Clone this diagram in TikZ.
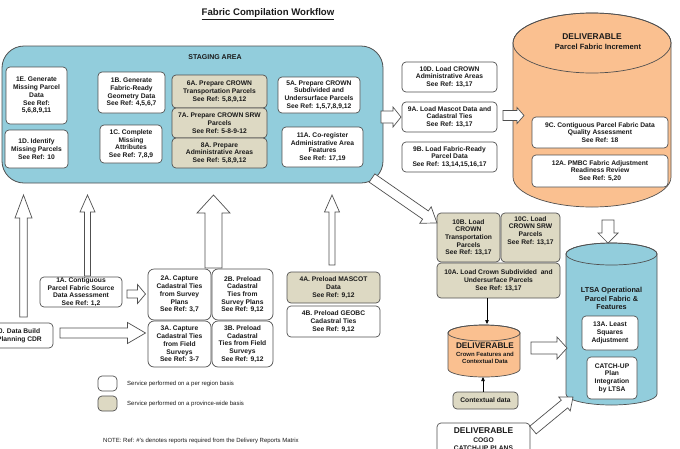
\documentclass[tikz,border=0pt]{standalone}
\usepackage{fontspec}
\setmainfont{Liberation Sans}
\usetikzlibrary{arrows.meta}
\definecolor{stagefill}{HTML}{92CDDC}
\definecolor{tanfill}{HTML}{DDD9C3}
\definecolor{orangefill}{HTML}{FAC090}
\definecolor{lineclr}{HTML}{505050}
\definecolor{txt}{HTML}{1A1A1A}
\newcommand\bxfont{\bfseries\fontsize{6.7}{7.7}\selectfont}
\newcommand\bx[7][]{\node[box,#1,minimum width={(#5-#3)*1pt},minimum height={(#6-#4)*1pt}] (#2) at ({(#3+#5)/2},{(#4+#6)/2}) {#7};}
\newcommand\barrow[7]{%
 \pgfmathsetmacro\bang{atan2((#2)-(#4),(#3)-(#1))}%
 \pgfmathsetmacro\blen{veclen((#3)-(#1),(#4)-(#2))}%
 \begin{scope}[shift={(#1,#2)},rotate=\bang]
  \draw[blockarrow] (0,#5) -- ({\blen-#7},#5) -- ({\blen-#7},#6) -- (\blen,0) -- ({\blen-#7},-#6) -- ({\blen-#7},-#5) -- (0,-#5) -- cycle;
 \end{scope}}
\tikzset{
 box/.style={draw=lineclr, line width=0.7pt, rounded corners=4pt, fill=white, align=center, font=\bxfont, text=txt, inner sep=0.5pt},
 tanbox/.style={box, fill=tanfill},
 bigbox/.style={box, rounded corners=6pt},
 blockarrow/.style={draw=lineclr, line width=0.7pt, fill=white, line join=miter},
 thinarrow/.style={draw=black, line width=0.6pt, -{Triangle[length=4pt,width=3.5pt]}},
 cylline/.style={draw=lineclr, line width=0.7pt},
 lbl/.style={font=\bxfont, text=txt, align=center, inner sep=0pt},
 big/.style={font=\bfseries\fontsize{8.4}{9}\selectfont, text=txt, inner sep=0pt},
 legendtxt/.style={font=\fontsize{6}{7}\selectfont, text=txt, inner sep=0pt, anchor=west},
}
\begin{document}
\begin{tikzpicture}[x=1pt,y=-1pt]
\useasboundingbox (0,0) rectangle (680,448);
\fill[white] (0,0) rectangle (680,448);

% title
\node[font=\bfseries\fontsize{9.6}{11}\selectfont, text=txt, inner sep=0pt] (title) at (268,14) {\underline{Fabric Compilation Workflow}};

% staging area
\node[draw=lineclr, line width=0.8pt, rounded corners=22pt, fill=stagefill, minimum width=381pt, minimum height=137pt, inner sep=0pt] (stage) at (192.5,114.5) {};
\node[font=\bfseries\fontsize{7}{8}\selectfont, text=txt, inner sep=0pt] (stagelbl) at (215,57) {STAGING AREA};

\bx{n1E}{6}{67}{67}{124}{1E. Generate\\Missing Parcel\\Data\\See Ref:\\5,6,8,9,11}
\bx{n1D}{5}{130}{68}{168}{1D. Identify\\Missing Parcels\\See Ref: 10}
\bx{n1B}{98}{72}{165}{113}{1B. Generate\\Fabric-Ready\\Geometry Data\\See Ref: 4,5,6,7}
\bx{n1C}{100}{125}{162}{163}{1C. Complete\\Missing\\Attributes\\See Ref: 7,8,9}
\bx[tanbox]{n6A}{172}{75}{267}{108}{6A. Prepare CROWN\\Transportation Parcels\\See Ref: 5,8,9,12}
\bx[tanbox]{n7A}{172}{108}{267}{138}{7A. Prepare CROWN SRW\\Parcels\\See Ref: 5-8-9-12}
\bx[tanbox]{n8A}{172}{138}{267}{168}{8A. Prepare\\Administrative Areas\\See Ref: 5,8,9,12}
\bx{n5A}{278}{77}{360}{113}{5A. Prepare CROWN\\Subdivided and\\Undersurface Parcels\\See Ref: 1,5,7,8,9,12}
\bx{n11A}{282}{127}{363}{167}{11A. Co-register\\Administrative Area\\Features\\See Ref: 17,19}

% load boxes
\bx{n10D}{402}{62}{497}{92}{10D. Load CROWN\\Administrative Areas\\See Ref: 13,17}
\bx{n9A}{402}{102}{497}{132}{9A. Load Mascot Data and\\Cadastral Ties\\See Ref: 13,17}
\bx{n9B}{402}{142}{497}{172}{9B. Load Fabric-Ready\\Parcel Data\\See Ref: 13,14,15,16,17}

% top-right cylinder
\filldraw[cylline, fill=orangefill] (513,43) -- (513,177) arc[start angle=180,end angle=360,x radius=79pt,y radius=30pt] -- (671,43) arc[start angle=0,end angle=180,x radius=79pt,y radius=30pt] -- cycle;
\draw[cylline] (592,43) ellipse[x radius=79pt,y radius=30pt];
\node[big] (pfiA) at (592,37) {DELIVERABLE};
\node[font=\bfseries\fontsize{7.6}{9}\selectfont, text=txt, inner sep=0pt] (pfiB) at (598,47) {Parcel Fabric Increment};
\bx{n9C}{532}{117}{668}{148}{9C. Contiguous Parcel Fabric Data\\Quality Assessment\\See Ref: 18}
\bx{n12A}{532}{155}{668}{187}{12A. PMBC Fabric Adjustment\\Readiness Review\\See Ref: 5,20}

% crown load boxes
\bx[tanbox]{n10B}{437}{213}{500}{262}{10B. Load\\CROWN\\Transportation\\Parcels\\See Ref: 13,17}
\bx[tanbox]{n10C}{501}{213}{560}{262}{10C. Load\\CROWN SRW\\Parcels\\See Ref: 13,17\\[7pt]}
\bx[tanbox]{n10A}{437}{263}{560}{298}{10A. Load Crown Subdivided\ \ and\\Undersurface Parcels\\See Ref: 13,17}

% small cylinder
\filldraw[cylline, fill=orangefill] (448,333) -- (448,369) arc[start angle=180,end angle=360,x radius=36pt,y radius=8pt] -- (520,333) arc[start angle=0,end angle=180,x radius=36pt,y radius=8pt] -- cycle;
\draw[cylline] (484,333) ellipse[x radius=36pt,y radius=8pt];
\node[font=\bfseries\fontsize{8.2}{9}\selectfont, text=txt, inner sep=0pt] (cfA) at (485,346) {DELIVERABLE};
\node[font=\bfseries\fontsize{6}{7.4}\selectfont, text=txt, align=center, inner sep=0pt] (cfB) at (485,358) {Crown Features and\\Contextual Data};
\bx[tanbox]{nctx}{453}{392}{518}{409}{Contextual data}
\coordinate (cyltop) at (487,324);
\coordinate (cylbot) at (483,377);
\draw[thinarrow] (n10A.south -| cyltop) -- (cyltop);
\draw[thinarrow] (nctx.north -| cylbot) -- (cylbot);

% LTSA cylinder
\filldraw[cylline, fill=stagefill] (566,254) -- (566,394) arc[start angle=180,end angle=360,x radius=45.5pt,y radius=11pt] -- (657,254) arc[start angle=0,end angle=180,x radius=45.5pt,y radius=11pt] -- cycle;
\draw[cylline] (611.5,254) ellipse[x radius=45.5pt,y radius=11pt];
\node[font=\bfseries\fontsize{7.3}{8.5}\selectfont, text=txt, align=center, inner sep=0pt] (ltsa) at (611.5,298.5) {LTSA Operational\\Parcel Fabric \&\\Features};
\bx{n13A}{582}{316}{638}{350}{13A. Least\\Squares\\Adjustment}
\bx{nCU}{587}{357}{637}{399}{CATCH-UP\\Plan\\Integration\\by LTSA}

% bottom deliverable
\bx{ncogo}{437}{423}{530}{472}{}
\node[big] (cogoA) at (483.5,431) {DELIVERABLE};
\node[font=\bfseries\fontsize{6.7}{8}\selectfont, text=txt, inner sep=0pt] (cogoB) at (483.5,440) {COGO};
\node[font=\bfseries\fontsize{6.7}{8}\selectfont, text=txt, inner sep=0pt] (cogoC) at (483.5,448.5) {CATCH-UP PLANS};

% lower left
\bx{n0}{-14}{323}{53}{348}{0. Data Build\\Planning CDR}
\bx{n1A}{40}{277}{122}{307}{1A. Contiguous\\Parcel Fabric Source\\Data Assessment\\See Ref: 1,2}
\bx[bigbox]{n2A}{148}{269}{211}{320}{2A. Capture\\Cadastral Ties\\from Survey\\Plans\\See Ref: 3,7}
\bx[bigbox]{n2B}{212}{269}{273}{320}{2B. Preload\\Cadastral\\Ties from\\Survey Plans\\See Ref: 9,12}
\bx[bigbox]{n3A}{148}{321}{211}{367}{3A. Capture\\Cadastral Ties\\from Field\\Surveys\\See Ref: 3-7}
\bx[bigbox]{n3B}{212}{321}{273}{367}{3B. Preload\\Cadastral\\Ties from Field\\Surveys\\See Ref: 9,12}
\bx[tanbox]{n4A}{287}{272}{380}{303}{4A. Preload MASCOT\\Data\\See Ref: 9,12}
\bx{n4B}{287}{306}{380}{337}{4B. Preload GEOBC\\Cadastral Ties\\See Ref: 9,12}

% legend
\bx{lgw}{98}{376}{117}{391}{}
\bx[tanbox]{lgt}{98}{396}{117}{411}{}
\node[legendtxt] (lgwt) at (127,383.5) {Service performed on a per region basis};
\node[legendtxt] (lgtt) at (127,404) {Service performed on a province-wide basis};
\node[legendtxt] (note) at (103,441) {NOTE: Ref: \#'s denotes reports required from the Delivery Reports Matrix};

% block arrows
\barrow{381}{117}{401}{117}{6}{10}{8}
\barrow{503}{115.5}{524}{115.5}{5}{8}{7}
\barrow{372}{178}{437}{223}{5}{10}{14}
\barrow{608}{220}{608}{243}{6}{10}{10}
\barrow{531}{348}{567}{348}{6}{11}{10}
\barrow{533}{430}{573}{397}{5}{9}{11}
\barrow{23.5}{317}{23.5}{195}{3.8}{8.5}{23}
\barrow{87.5}{276}{87.5}{195}{3}{7.5}{17}
\barrow{213.5}{268}{213.5}{195}{8.5}{16.5}{18}
\barrow{332}{265}{332}{195}{3}{7.5}{17}
\barrow{127}{294}{145.5}{294}{4}{9.5}{8}
\barrow{60}{333}{145.5}{333}{5}{10.5}{18}
\end{tikzpicture}
\end{document}
